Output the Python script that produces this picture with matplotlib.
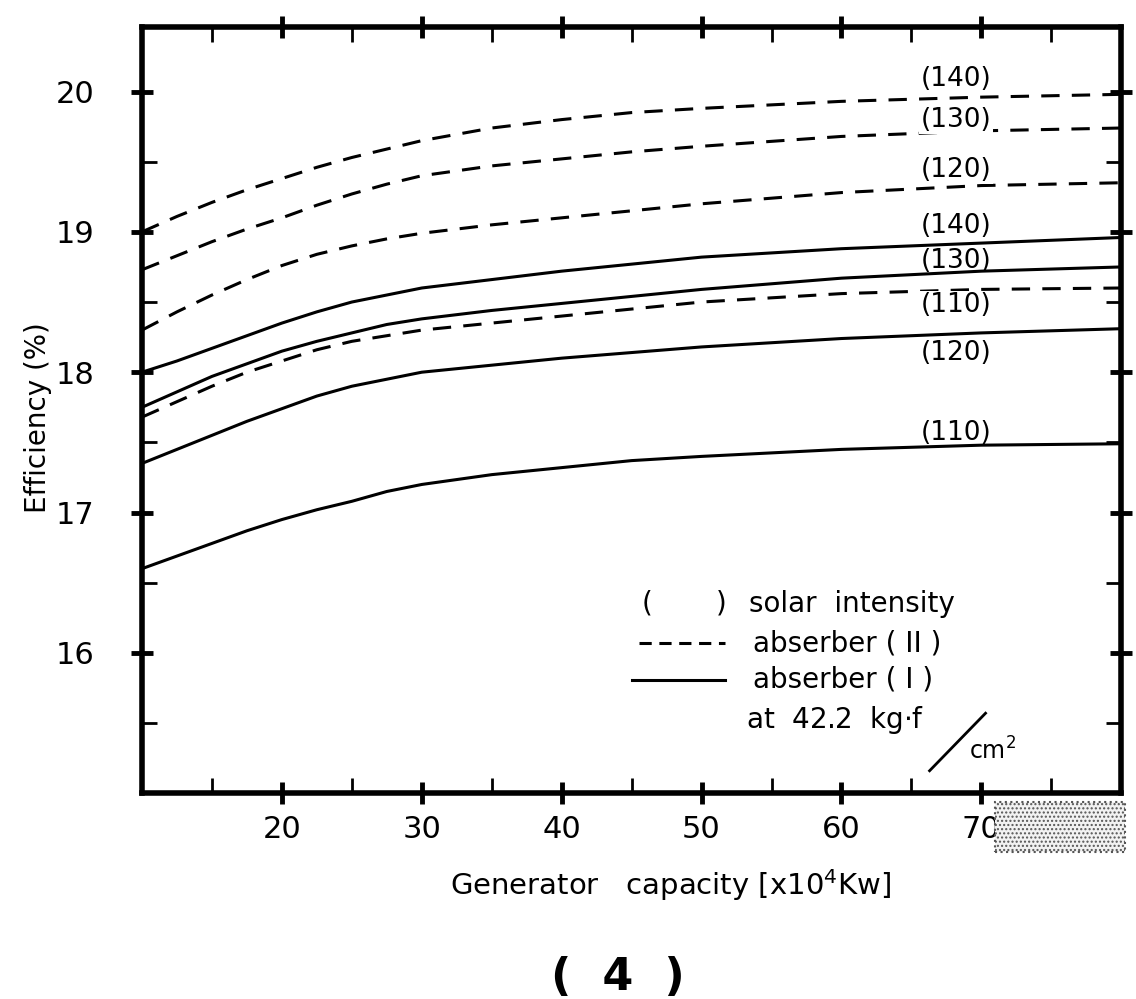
import matplotlib
matplotlib.use('Agg')
import matplotlib.pyplot as plt
from matplotlib.ticker import MultipleLocator
from matplotlib.patches import Rectangle

# Generator capacity (x10^4 kW)
capacity = [10, 12.5, 15, 17.5, 20, 22.5, 25, 27.5, 30, 35, 40, 45, 50, 60, 70, 80]

# absorber (II) - dashed
eff_II_140 = [19.00, 19.11, 19.21, 19.30, 19.38, 19.46, 19.53, 19.59, 19.65, 19.74, 19.80, 19.85, 19.88, 19.93, 19.96, 19.98]
eff_II_130 = [18.73, 18.83, 18.93, 19.02, 19.10, 19.19, 19.27, 19.34, 19.40, 19.47, 19.52, 19.57, 19.61, 19.68, 19.72, 19.74]
eff_II_120 = [18.30, 18.43, 18.55, 18.66, 18.76, 18.84, 18.90, 18.95, 18.99, 19.05, 19.10, 19.15, 19.20, 19.28, 19.33, 19.35]
eff_II_110 = [17.68, 17.79, 17.90, 18.00, 18.08, 18.16, 18.22, 18.26, 18.30, 18.35, 18.40, 18.45, 18.50, 18.56, 18.59, 18.60]

# absorber (I) - solid
eff_I_140 = [18.00, 18.08, 18.17, 18.26, 18.35, 18.43, 18.50, 18.55, 18.60, 18.66, 18.72, 18.77, 18.82, 18.88, 18.92, 18.96]
eff_I_130 = [17.75, 17.86, 17.97, 18.06, 18.15, 18.22, 18.28, 18.34, 18.38, 18.44, 18.49, 18.54, 18.59, 18.67, 18.72, 18.75]
eff_I_120 = [17.35, 17.45, 17.55, 17.65, 17.74, 17.83, 17.90, 17.95, 18.00, 18.05, 18.10, 18.14, 18.18, 18.24, 18.28, 18.31]
eff_I_110 = [16.60, 16.69, 16.78, 16.87, 16.95, 17.02, 17.08, 17.15, 17.20, 17.27, 17.32, 17.37, 17.40, 17.45, 17.48, 17.49]

# curve labels: (text, y position, white box behind?)
labels = [
    ('(140)', 20.09, False),
    ('(130)', 19.80, True),
    ('(120)', 19.44, True),
    ('(140)', 19.04, False),
    ('(130)', 18.79, False),
    ('(110)', 18.48, True),
    ('(120)', 18.14, False),
    ('(110)', 17.57, False),
]

plt.rcParams['font.family'] = ['DejaVu Sans']

fig = plt.figure(figsize=(11.36, 9.99), dpi=100)
ax = fig.add_axes([0.125, 0.206, 0.862, 0.767])

dash = (0, (6, 4))
lw = 2.2
for ys in [eff_II_140, eff_II_130, eff_II_120, eff_II_110]:
    ax.plot(capacity, ys, color='black', lw=lw, linestyle=dash)
for ys in [eff_I_140, eff_I_130, eff_I_120, eff_I_110]:
    ax.plot(capacity, ys, color='black', lw=lw)

for txt, y, boxed in labels:
    kw = {}
    if boxed:
        kw['bbox'] = dict(facecolor='white', edgecolor='none', pad=1)
    ax.text(68.2, y, txt, ha='center', va='center', fontsize=19, **kw)

ax.set_xlim(10, 80)
ax.set_ylim(15, 20.46)
ax.set_xticks([20, 30, 40, 50, 60, 70])
ax.set_yticks([16, 17, 18, 19, 20])
ax.xaxis.set_minor_locator(MultipleLocator(5))
ax.yaxis.set_minor_locator(MultipleLocator(0.5))

ax.tick_params(which='major', direction='inout', length=16, width=3.5,
               top=True, right=True, labelsize=22)
ax.tick_params(which='minor', direction='in', length=11, width=2,
               top=True, right=True)
ax.tick_params(axis='x', which='major', pad=8)
ax.tick_params(axis='y', which='major', pad=26)
for s in ax.spines.values():
    s.set_linewidth(4)

ax.set_ylabel('Efficiency (%)', fontsize=20, labelpad=6)
ax.yaxis.set_label_coords(-0.092, 0.49)
fig.text(0.59, 0.114, 'Generator   capacity [x10$^4$Kw]', ha='center', va='center',
         fontsize=21)
fig.text(0.544, 0.022, '(  4  )', ha='center', va='center', fontsize=32,
         fontweight='bold')

# legend block drawn by hand, like the original
ax.text(45.7, 16.35, '(', ha='left', va='center', fontsize=20)
ax.text(51.0, 16.35, ')', ha='left', va='center', fontsize=20)
ax.text(53.4, 16.35, 'solar  intensity', ha='left', va='center', fontsize=20)
ax.plot([45.5, 51.7], [16.07, 16.07], color='black', lw=lw, linestyle=(0, (4, 2.5)))
ax.text(53.7, 16.07, 'abserber ( II )', ha='left', va='center', fontsize=20)
ax.plot([45.0, 51.7], [15.81, 15.81], color='black', lw=lw)
ax.text(53.7, 15.81, 'abserber ( I )', ha='left', va='center', fontsize=20)
ax.text(53.2, 15.52, 'at  42.2  kg$\\cdot$f', ha='left', va='center', fontsize=20)
ax.plot([66.3, 70.3], [15.16, 15.57], color='black', lw=2)
ax.text(69.1, 15.3, 'cm$^2$', ha='left', va='center', fontsize=17)

# speckled stamp at the bottom right corner
fig.patches.append(Rectangle((0.876, 0.147), 0.114, 0.05, transform=fig.transFigure,
                             facecolor='#f2f2f2', edgecolor='#555555', hatch='....',
                             linestyle=':', lw=1.5))

fig.savefig('out.png', dpi=100)
